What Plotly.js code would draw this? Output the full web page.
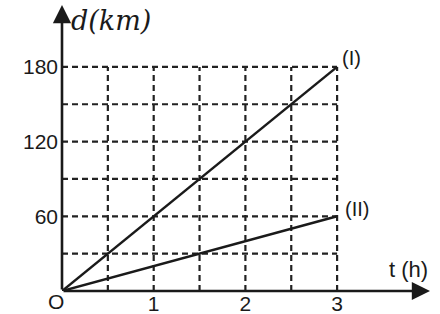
<!DOCTYPE html>
<html>
<head>
<meta charset="utf-8">
<script src="https://cdn.plot.ly/plotly-3.0.1.min.js"></script>
<style>html,body{margin:0;padding:0;background:#fff;}#chart{width:440px;height:314px;}</style>
</head>
<body>
<div id="chart"></div>
<script>
// Data
var timeH = [0, 3];
var distI = [0, 180];
var distII = [0, 60];
var gridX = [0.5, 1, 1.5, 2, 2.5, 3];
var gridY = [30, 60, 90, 120, 150, 180];
var xTickVals = [1, 2, 3];
var yTickVals = [60, 120, 180];
var xMax = 4.013, yMax = 229.7;

var ink = '#1a1a1a';
var gridColor = '#222';
var shapes = [];
gridX.forEach(function (gx) {
  shapes.push({type: 'line', xref: 'x', yref: 'y', x0: gx, x1: gx, y0: 0, y1: gridY[gridY.length - 1],
    line: {color: gridColor, width: 2.2, dash: '6px,4px'}, layer: 'below'});
});
gridY.forEach(function (gy) {
  shapes.push({type: 'line', xref: 'x', yref: 'y', x0: 0, x1: gridX[gridX.length - 1], y0: gy, y1: gy,
    line: {color: gridColor, width: 2.2, dash: '6px,4px'}, layer: 'below'});
});

var traces = [
  {x: timeH, y: distI, mode: 'lines', line: {color: ink, width: 2.5}, hoverinfo: 'skip', cliponaxis: false},
  {x: timeH, y: distII, mode: 'lines', line: {color: ink, width: 2.5}, hoverinfo: 'skip', cliponaxis: false}
];

var labelFont = {family: 'Liberation Sans, Arial, sans-serif', size: 21, color: ink};
var annotations = [
  // axis arrows
  {xref: 'x', yref: 'y', x: xMax, y: 0, axref: 'x', ayref: 'y', ax: 0, ay: 0, text: '', showarrow: true,
    arrowhead: 2, arrowsize: 1.4, arrowwidth: 2.6, arrowcolor: ink},
  {xref: 'x', yref: 'y', x: 0, y: yMax, axref: 'x', ayref: 'y', ax: 0, ay: 0, text: '', showarrow: true,
    arrowhead: 2, arrowsize: 1.4, arrowwidth: 2.6, arrowcolor: ink},
  // line labels
  {xref: 'x', yref: 'y', x: timeH[1], y: distI[1], text: '(I)', showarrow: false, xanchor: 'left', yanchor: 'bottom',
    xshift: 3, yshift: -4, font: {family: labelFont.family, size: 20, color: ink}},
  {xref: 'x', yref: 'y', x: timeH[1], y: distII[1], text: '(II)', showarrow: false, xanchor: 'left', yanchor: 'bottom',
    xshift: 6, yshift: -6, font: {family: labelFont.family, size: 20, color: ink}},
  // axis titles
  {xref: 'paper', yref: 'paper', x: 1.0, y: 0.075, text: 't (h)', showarrow: false, xanchor: 'right', yanchor: 'middle',
    font: {family: labelFont.family, size: 22, color: ink}},
  {xref: 'paper', yref: 'paper', x: 0.02, y: 0.945, text: 'd(km)', showarrow: false, xanchor: 'left', yanchor: 'middle',
    font: {family: 'DejaVu Serif, serif', size: 27, color: ink, style: 'italic'}},
  // origin
  {xref: 'x', yref: 'y', x: 0, y: 0, text: 'O', showarrow: false, xanchor: 'right', yanchor: 'top',
    xshift: 4, yshift: 3, font: {family: labelFont.family, size: 21, color: ink}}
];

var layout = {
  width: 440, height: 314,
  margin: {l: 62, r: 10, t: 5, b: 23, pad: 0},
  paper_bgcolor: '#fff', plot_bgcolor: '#fff',
  showlegend: false,
  xaxis: {range: [0, xMax], tickvals: xTickVals, ticks: '', showgrid: false, zeroline: false, showline: false,
    tickfont: labelFont, ticklabelstandoff: -2, fixedrange: true},
  yaxis: {range: [0, yMax], tickvals: yTickVals, ticks: '', showgrid: false, zeroline: false, showline: false,
    tickfont: labelFont, ticklabelstandoff: 3, fixedrange: true},
  shapes: shapes,
  annotations: annotations
};

Plotly.newPlot('chart', traces, layout, {staticPlot: true, displayModeBar: false});
</script>
</body>
</html>
